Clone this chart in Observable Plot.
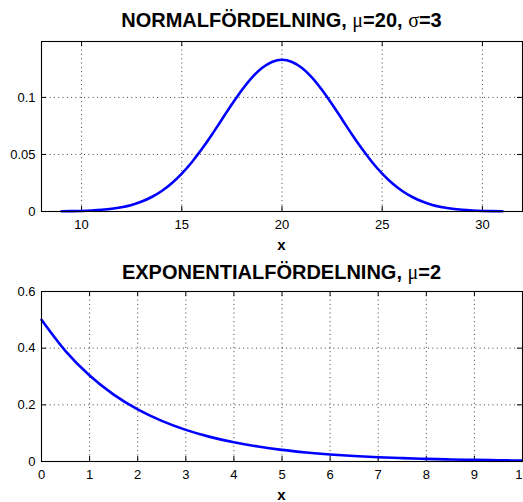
<!DOCTYPE html>
<html>
<head>
<meta charset="utf-8">
<script src="https://cdn.jsdelivr.net/npm/d3@7"></script>
<script src="https://cdn.jsdelivr.net/npm/@observablehq/plot@0.6"></script>
<style>
  html, body { margin: 0; padding: 0; background: #fff; }
  #wrap { position: relative; width: 523px; height: 502px; overflow: hidden; font-family: "Liberation Sans", Arial, sans-serif; }
  #wrap > .p { position: absolute; left: 0; }
  #overlay { position: absolute; left: 0; top: 0; pointer-events: none; }
</style>
</head>
<body>
<div id="wrap"></div>
<script>
// ---- Data ----
const normX = [9, 9.5, 10, 10.5, 11, 11.5, 12, 12.5, 13, 13.5, 14, 14.5, 15, 15.5, 16, 16.5, 17, 17.5, 18, 18.5, 19, 19.5, 20,
               20.5, 21, 21.5, 22, 22.5, 23, 23.5, 24, 24.5, 25, 25.5, 26, 26.5, 27, 27.5, 28, 28.5, 29, 29.5, 30, 30.5, 31];
const normY = [0.0002, 0.0003, 0.0005, 0.0009, 0.0015, 0.0024, 0.0038, 0.0058, 0.0087, 0.0127, 0.0180, 0.0248, 0.0332, 0.0432,
               0.0547, 0.0673, 0.0807, 0.0940, 0.1065, 0.1174, 0.1258, 0.1311, 0.1330,
               0.1311, 0.1258, 0.1174, 0.1065, 0.0940, 0.0807, 0.0673, 0.0547, 0.0432, 0.0332, 0.0248, 0.0180, 0.0127,
               0.0087, 0.0058, 0.0038, 0.0024, 0.0015, 0.0009, 0.0005, 0.0003, 0.0002];
const expX = [0, 0.5, 1, 1.5, 2, 2.5, 3, 3.5, 4, 4.5, 5, 5.5, 6, 6.5, 7, 7.5, 8, 8.5, 9, 9.5, 10];
const expY = [0.5, 0.3894, 0.3033, 0.2362, 0.1839, 0.1433, 0.1116, 0.0869, 0.0677, 0.0527, 0.0410, 0.0320, 0.0249,
              0.0194, 0.0151, 0.0118, 0.0092, 0.0071, 0.0056, 0.0043, 0.0034];

const normXTicks = [10, 15, 20, 25, 30];
const normYTicks = [0, 0.05, 0.1];
const expXTicks = [0, 1, 2, 3, 4, 5, 6, 7, 8, 9, 10];
const expYTicks = [0, 0.2, 0.4, 0.6];

const title1 = ["NORMALFÖRDELNING, ", "μ", "=20, ", "σ", "=3"];
const title2 = ["EXPONENTIALFÖRDELNING, ", "μ", "=2"];
const xLabel = "x";

// ---- Layout ----
const W = 523, H = 251;
const mL = 41, mR = 1;

function panel({xs, ys, xDomain, yDomain, xTicks, yTicks, mT, mB, top}) {
  const data = xs.map((x, i) => ({x, y: ys[i]}));
  const fw = W - mL - mR, fh = H - mT - mB;
  const tl = 5;
  const grid = {stroke: "#000", strokeOpacity: 0.75, strokeWidth: 1, strokeDasharray: "1,3.3"};
  const p = Plot.plot({
    width: W, height: H,
    marginLeft: mL, marginRight: mR, marginTop: mT, marginBottom: mB,
    style: {fontFamily: "Liberation Sans, Arial, sans-serif", fontSize: "13px", color: "#000", background: "transparent"},
    x: {domain: xDomain},
    y: {domain: yDomain},
    marks: [
      Plot.gridX(xTicks.filter(t => t > xDomain[0] && t < xDomain[1]), grid),
      Plot.gridY(yTicks.filter(t => t > yDomain[0] && t < yDomain[1]), grid),
      Plot.tickX(xTicks, {x: d => d, insetTop: fh - tl, stroke: "#000", strokeWidth: 1}),
      Plot.tickX(xTicks, {x: d => d, insetBottom: fh - tl, stroke: "#000", strokeWidth: 1}),
      Plot.tickY(yTicks, {y: d => d, insetRight: fw - tl, stroke: "#000", strokeWidth: 1}),
      Plot.tickY(yTicks, {y: d => d, insetLeft: fw - tl, stroke: "#000", strokeWidth: 1}),
      Plot.axisX(xTicks, {tickSize: 0, tickPadding: 8, label: null, fontSize: 13, tickFormat: d => String(d)}),
      Plot.axisY(yTicks, {tickSize: 0, tickPadding: 6, label: null, fontSize: 13, tickFormat: d => String(d)}),
      Plot.line(data, {x: "x", y: "y", stroke: "#0000ff", strokeWidth: 2.6, curve: "monotone-x"}),
      Plot.frame({stroke: "#000", strokeWidth: 1.1})
    ]
  });
  p.classList.add("p");
  p.style.top = top + "px";
  return p;
}

const wrap = document.getElementById("wrap");
wrap.appendChild(panel({xs: normX, ys: normY, xDomain: [8, 32], yDomain: [0, 0.149],
  xTicks: normXTicks, yTicks: normYTicks, mT: 41, mB: 40, top: 0}));
wrap.appendChild(panel({xs: expX, ys: expY, xDomain: [0, 10], yDomain: [0, 0.6],
  xTicks: expXTicks, yTicks: expYTicks, mT: 40, mB: 41, top: 251}));

// ---- Titles and axis labels as real text ----
const svg = d3.select(wrap).append("svg").attr("id", "overlay").attr("width", W).attr("height", 502);
const cx = mL + (W - mL - mR) / 2;
function title(parts, y) {
  const t = svg.append("text").attr("x", cx).attr("y", y).attr("text-anchor", "middle")
    .attr("font-family", "Liberation Sans, Arial, sans-serif").attr("font-size", 20).attr("font-weight", "bold");
  parts.forEach((s, i) => {
    const ts = t.append("tspan").text(s);
    if (i % 2 === 1) ts.attr("font-family", "Liberation Serif, serif").attr("font-weight", "normal");
  });
}
title(title1, 26.5);
title(title2, 278.5);
[249.5, 499.5].forEach(y => svg.append("text").attr("x", cx).attr("y", y).attr("text-anchor", "middle")
  .attr("font-family", "Liberation Sans, Arial, sans-serif").attr("font-size", 15).attr("font-weight", "bold").text(xLabel));
</script>
</body>
</html>
